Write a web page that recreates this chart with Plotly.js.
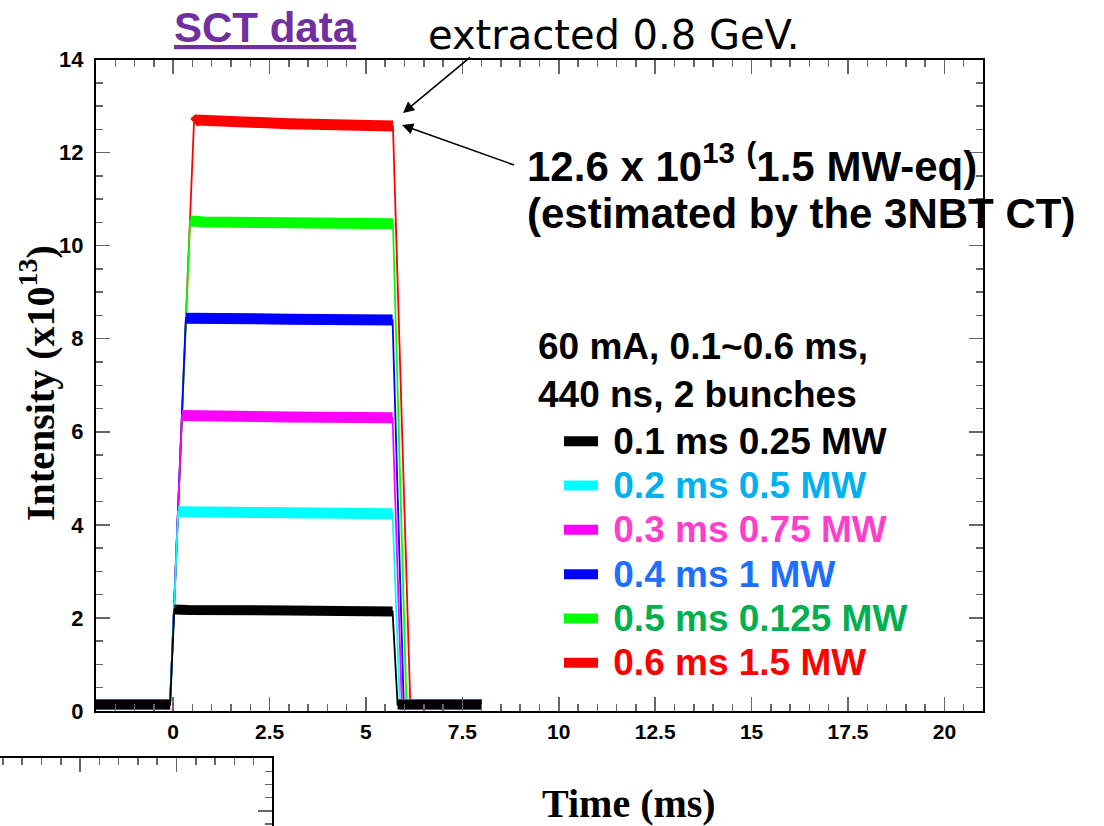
<!DOCTYPE html>
<html>
<head>
<meta charset="utf-8">
<script src="https://cdn.plot.ly/plotly-3.0.1.min.js"></script>
<style>
  html, body { margin: 0; padding: 0; background: #ffffff; }
  #chart { width: 1104px; height: 826px; }
</style>
</head>
<body>
<div id="chart"></div>
<script>
// ---- Data (time in ms, intensity in 1e13) ----
// key points per series: baseline start, rise start, plateau start, plateau..., plateau end, fall end, baseline end
const seriesLabels = ['0.1 ms 0.25 MW', '0.2 ms 0.5 MW', '0.3 ms 0.75 MW', '0.4 ms 1 MW', '0.5 ms 0.125 MW', '0.6 ms 1.5 MW'];
const traceColors  = ['#000000', '#00FFFF', '#FF00FF', '#0000FF', '#00FF00', '#FF0000'];
const labelColors  = ['#000000', '#00B0F0', '#FF3FCC', '#1F6FFF', '#00B050', '#FF0000'];

const time01 = [-2, -0.08, 0.03, 0.40, 3.0, 5.69, 5.82, 8.0];
const int01  = [0.14, 0.14, 2.18, 2.17, 2.16, 2.14, 0.14, 0.14];
const time02 = [-2, -0.08, 0.13, 0.50, 3.0, 5.69, 5.88, 8.0];
const int02  = [0.14, 0.14, 4.28, 4.27, 4.26, 4.24, 0.14, 0.14];
const time03 = [-2, -0.08, 0.23, 0.60, 3.0, 5.69, 5.93, 8.0];
const int03  = [0.14, 0.14, 6.35, 6.34, 6.32, 6.30, 0.14, 0.14];
const time04 = [-2, -0.08, 0.33, 0.70, 3.0, 5.69, 5.98, 8.0];
const int04  = [0.14, 0.14, 8.44, 8.43, 8.42, 8.40, 0.14, 0.14];
const time05 = [-2, -0.08, 0.44, 0.80, 3.0, 5.70, 6.05, 8.0];
const int05  = [0.14, 0.14, 10.53, 10.51, 10.49, 10.47, 0.14, 0.14];
const time06 = [-2, -0.08, 0.54, 0.62, 3.0, 5.70, 6.15, 8.0];
const int06  = [0.14, 0.14, 12.64, 12.70, 12.62, 12.57, 0.14, 0.14];

const seriesTimes = [time01, time02, time03, time04, time05, time06];
const seriesInts  = [int01, int02, int03, int04, int05, int06];

const headerText = '60 mA, 0.1~0.6 ms,<br>440 ns, 2 bunches';

// ---- Build traces (draw red first so black ends on top, like the reference) ----
const traces = [];
for (let i = seriesTimes.length - 1; i >= 0; i--) {
  const t = seriesTimes[i], v = seriesInts[i];
  // noisy band (plateau and baselines) drawn as a thick stroke
  const bx = [t[0], t[1], null, t[2], t[3], t[4], t[5], null, t[6], t[7]];
  const by = [v[0], v[1], null, v[2], v[3], v[4], v[5], null, v[6], v[7]];
  traces.push({
    type: 'scatter', mode: 'lines', x: bx, y: by, connectgaps: false,
    line: { color: traceColors[i], width: i === 0 ? 10 : 11 },
    name: '<span style="font-size:37px;color:' + labelColors[i] + '">&nbsp;' + seriesLabels[i] + '</span>',
    legendgroup: 'g' + i, legendrank: i + 1, showlegend: true, hoverinfo: 'skip'
  });
  // full pulse profile (thin)
  traces.push({
    type: 'scatter', mode: 'lines', x: t, y: v,
    line: { color: traceColors[i], width: 1.8 },
    legendgroup: 'g' + i, showlegend: false, hoverinfo: 'skip'
  });
}
// empty trace so the corner frame fragment (x2/y2) is drawn
traces.push({ type: 'scatter', mode: 'lines', x: [], y: [], xaxis: 'x2', yaxis: 'y2', showlegend: false, hoverinfo: 'skip' });

const W = 1104, H = 826;
const px = x => x / W;
const py = y => 1 - y / H;

const tickCol = '#666666';
const boldSans = { family: 'Liberation Sans, Arial, sans-serif', weight: 'bold', color: '#000' };

const layout = {
  width: W, height: H,
  margin: { l: 0, r: 0, t: 0, b: 0 },
  paper_bgcolor: '#ffffff', plot_bgcolor: '#ffffff',
  showlegend: true,
  legend: {
    x: px(559), xanchor: 'left', y: py(414), yanchor: 'top',
    bgcolor: 'rgba(0,0,0,0)', borderwidth: 0,
    font: Object.assign({}, boldSans, { size: 31.8 }),
    tracegroupgap: 0, itemwidth: 34
  },
  xaxis: {
    domain: [px(96), px(983)], anchor: 'y',
    range: [-2, 21], tick0: 0, dtick: 2.5,
    ticks: 'inside', ticklen: 14, tickwidth: 1.5, tickcolor: tickCol,
    minor: { tick0: 0, dtick: 0.5, ticks: 'inside', ticklen: 7, tickwidth: 1.5, tickcolor: tickCol, showgrid: false },
    showline: true, linecolor: '#000', linewidth: 2, mirror: 'allticks',
    showgrid: false, zeroline: false,
    tickfont: Object.assign({}, boldSans, { size: 21 }),
    ticklabelstandoff: 1
  },
  yaxis: {
    domain: [py(711), py(59.5)], anchor: 'x',
    range: [0, 14], tick0: 0, dtick: 2,
    ticks: 'inside', ticklen: 14, tickwidth: 1.5, tickcolor: tickCol,
    minor: { tick0: 0, dtick: 0.5, ticks: 'inside', ticklen: 7, tickwidth: 1.5, tickcolor: tickCol, showgrid: false },
    showline: true, linecolor: '#000', linewidth: 2, mirror: 'allticks',
    showgrid: false, zeroline: false,
    tickfont: Object.assign({}, boldSans, { size: 22 }),
    ticklabelstandoff: 6
  },
  // fragment of another frame at the bottom-left corner
  xaxis2: {
    domain: [0, px(272)], anchor: 'y2', side: 'top',
    range: [0.85, 14.95], tick0: 0, dtick: 5,
    ticks: 'inside', ticklen: 14, tickwidth: 1.5, tickcolor: tickCol,
    minor: { dtick: 1, ticks: 'inside', ticklen: 7, tickwidth: 1.5, tickcolor: tickCol, showgrid: false },
    showline: true, linecolor: '#000', linewidth: 2,
    showticklabels: false, showgrid: false, zeroline: false
  },
  yaxis2: {
    domain: [0, 68 / H], anchor: 'x2', side: 'right',
    range: [3.86, 9.01], tick0: 0, dtick: 5,
    ticks: 'inside', ticklen: 14, tickwidth: 1.5, tickcolor: tickCol,
    minor: { dtick: 1, ticks: 'inside', ticklen: 7, tickwidth: 1.5, tickcolor: tickCol, showgrid: false },
    showline: true, linecolor: '#000', linewidth: 2,
    showticklabels: false, showgrid: false, zeroline: false
  },
  annotations: [
    { xref: 'paper', yref: 'paper', x: px(265), y: py(27), xanchor: 'center', yanchor: 'middle',
      text: '<b><u>SCT data</u></b>', showarrow: false,
      font: { family: 'Liberation Sans, Arial, sans-serif', size: 42, color: '#7030A0' } },
    { xref: 'paper', yref: 'paper', x: px(426), y: py(35), xanchor: 'left', yanchor: 'middle',
      text: 'extracted 0.8 GeV.', showarrow: false,
      font: { family: 'DejaVu Sans, sans-serif', size: 40, color: '#000' } },
    { xref: 'paper', yref: 'paper', x: px(403), y: py(113), text: ' ', showarrow: true,
      ax: 70, ay: -58, arrowhead: 2, arrowsize: 1.4, arrowwidth: 1.6, arrowcolor: '#000', standoff: 0 },
    { xref: 'paper', yref: 'paper', x: px(402), y: py(125), text: ' ', showarrow: true,
      ax: 115, ay: 41, arrowhead: 2, arrowsize: 1.4, arrowwidth: 1.6, arrowcolor: '#000', standoff: 0 },
    { xref: 'paper', yref: 'paper', x: px(525), y: py(163), xanchor: 'left', yanchor: 'middle',
      text: '12.6 x 10<sup>13</sup> <sup>(</sup>1.5 MW-eq)', showarrow: false,
      font: Object.assign({}, boldSans, { size: 42 }) },
    { xref: 'paper', yref: 'paper', x: px(525), y: py(213), xanchor: 'left', yanchor: 'middle',
      text: '(estimated by the 3NBT CT)', showarrow: false,
      font: Object.assign({}, boldSans, { size: 42 }) },
    { xref: 'paper', yref: 'paper', x: px(536), y: py(370), xanchor: 'left', yanchor: 'middle', align: 'left',
      text: headerText, showarrow: false,
      font: Object.assign({}, boldSans, { size: 37 }) },
    { xref: 'paper', yref: 'paper', x: px(37), y: py(383), xanchor: 'center', yanchor: 'middle',
      text: 'Intensity (x10<sup>13</sup>)', textangle: -90, showarrow: false,
      font: { family: 'Liberation Serif, Times New Roman, serif', weight: 'bold', size: 40, color: '#000' } },
    { xref: 'paper', yref: 'paper', x: px(629), y: py(803), xanchor: 'center', yanchor: 'middle',
      text: 'Time (ms)', showarrow: false,
      font: { family: 'Liberation Serif, Times New Roman, serif', weight: 'bold', size: 40, color: '#000' } }
  ]
};

Plotly.newPlot('chart', traces, layout, { staticPlot: true, displayModeBar: false });
</script>
</body>
</html>
